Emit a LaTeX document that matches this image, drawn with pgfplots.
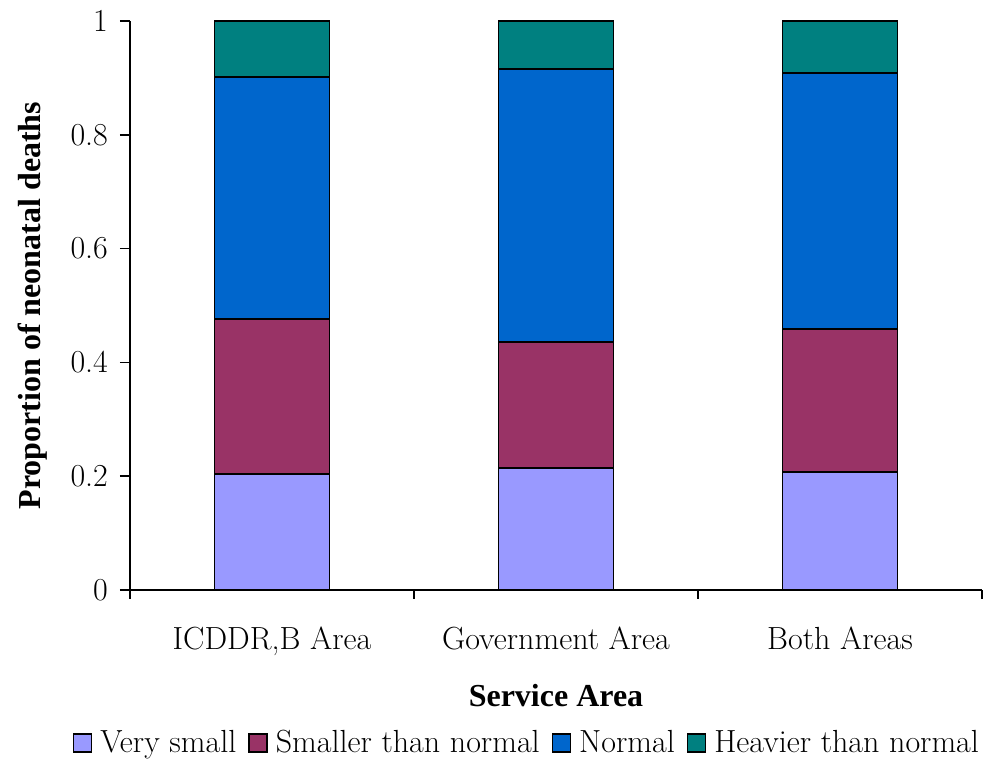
\documentclass[border=0pt]{standalone}
\usepackage{pgfplots}
\pgfplotsset{compat=1.18}
\usepackage{fontspec}
% Regular text stays in Latin Modern; bold labels use the Times-metric bold face
\newfontfamily\boldserif{LiberationSerif-Bold.ttf}

\definecolor{verysmall}{HTML}{9999FF}
\definecolor{smaller}{HTML}{993366}
\definecolor{normal}{HTML}{0066CC}
\definecolor{heavier}{HTML}{008080}

% Proportions of neonatal deaths by birth size (stacked increments)
\pgfplotstableread{
x  vsmall smaller normal heavier
0  0.204  0.272   0.425  0.099
1  0.215  0.221   0.479  0.085
2  0.207  0.251   0.450  0.092
}\deaths

\begin{document}
\begin{tikzpicture}[font=\fontsize{16}{19}\selectfont]
\begin{axis}[
  name=ax,
  scale only axis,
  width=426pt, height=284.5pt,
  ybar stacked,
  bar width=0.405,
  xmin=-0.5, xmax=2.5,
  ymin=0, ymax=1,
  axis x line*=bottom,
  axis y line*=left,
  axis line style={line width=0.75pt},
  tick align=outside,
  xtick={0,1,2},
  xticklabels={{ICDDR,B Area},{Government Area},{Both Areas}},
  major x tick style={draw=none},
  minor xtick={-0.5,0.5,1.5,2.5},
  minor tick length=4.5pt,
  major tick length=5pt,
  tick style={line width=0.75pt, black},
  ytick={0,0.2,0.4,0.6,0.8,1},
  yticklabels={0,0.2,0.4,0.6,0.8,1},
  xticklabel style={yshift=-10pt},
  yticklabel style={xshift=-2.5pt},
  xlabel={{\boldserif Service Area}},
  ylabel={{\boldserif Proportion of neonatal deaths}},
  xlabel style={yshift=-7.5pt},
  ylabel style={yshift=5pt},
  legend columns=4,
  legend style={draw=none, fill=none, at={(0.467,0)}, anchor=center, yshift=-76.5pt,
    nodes={inner sep=2pt},
    /tikz/every odd column/.append style={column sep=2pt},
    /tikz/every even column/.append style={column sep=4pt}},
  legend image code/.code={\draw[#1, line width=0.75pt] (0pt,-4.5pt) rectangle (9pt,4.5pt);},
  every axis plot/.append style={draw=black, line width=0.9pt},
]
\addplot[fill=verysmall] table[x=x, y=vsmall] {\deaths};
\addplot[fill=smaller] table[x=x, y=smaller] {\deaths};
\addplot[fill=normal] table[x=x, y=normal] {\deaths};
\addplot[fill=heavier] table[x=x, y=heavier] {\deaths};
\legend{Very small, Smaller than normal, Normal, Heavier than normal}
\end{axis}
\pgfresetboundingbox
\path[use as bounding box] ([xshift=-65pt,yshift=-85pt]ax.south west)
  rectangle ([xshift=5pt,yshift=10.5pt]ax.north east);
\end{tikzpicture}
\end{document}
